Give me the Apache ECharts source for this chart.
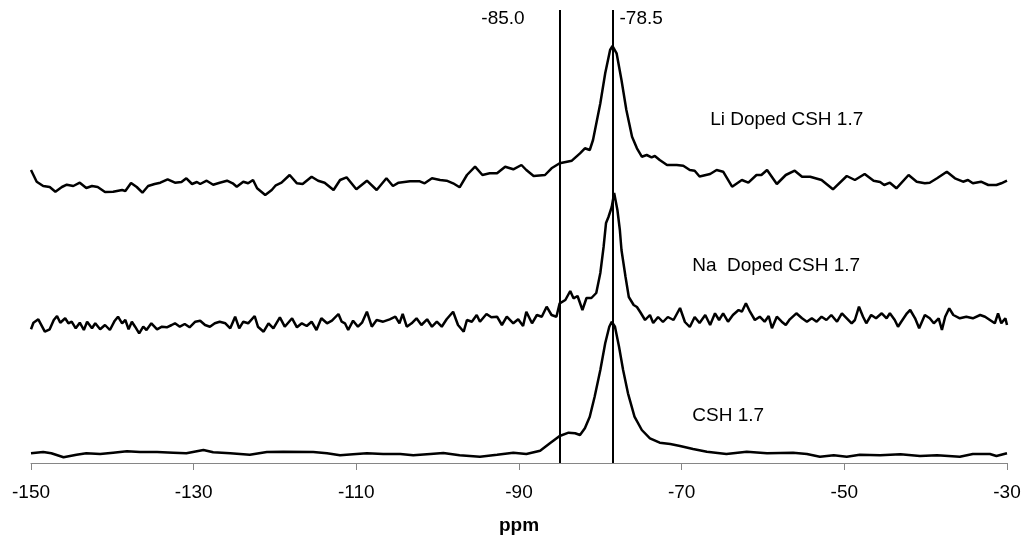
<!DOCTYPE html>
<html>
<head>
<meta charset="utf-8">
<script src="https://cdn.jsdelivr.net/npm/echarts@6/dist/echarts.min.js"></script>
<style>
html,body{margin:0;padding:0;background:#fff;}
#chart{width:1023px;height:538px;}
</style>
</head>
<body>
<div id="chart"></div>
<script>
// ---- Data (chemical shift in ppm, intensity in arbitrary stacked units) ----
const xMin = -150, xMax = -30, xStep = 20;
const axisName = 'ppm';
const seriesNames = ['Li Doped CSH 1.7', 'Na  Doped CSH 1.7', 'CSH 1.7'];
const refLines = [-85.0, -78.5];
const refLabels = ['-85.0', '-78.5'];

const liPpm = [-150.0,-149.3,-148.5,-147.7,-147.0,-146.2,-145.6,-144.8,-144.0,-143.2,-142.5,-141.8,-140.9,-139.9,-138.8,-138.4,-137.7,-137.0,-136.3,-135.6,-134.8,-134.1,-133.2,-132.3,-131.5,-130.9,-130.2,-129.6,-129.2,-128.4,-127.6,-126.8,-125.9,-125.2,-124.7,-123.9,-123.3,-122.7,-122.2,-121.2,-120.4,-119.9,-119.2,-118.2,-117.3,-116.6,-115.5,-114.7,-113.9,-112.8,-112.0,-111.2,-110.0,-108.7,-107.5,-106.3,-105.5,-104.8,-103.4,-102.2,-101.6,-100.7,-99.7,-98.9,-98.1,-97.3,-96.4,-95.4,-94.5,-93.6,-92.7,-91.7,-90.7,-89.7,-89.1,-88.2,-86.8,-86.0,-85.0,-83.5,-82.5,-81.9,-81.3,-80.9,-80.0,-79.4,-78.8,-78.5,-78.0,-77.4,-76.8,-76.1,-75.5,-74.9,-74.3,-73.7,-73.3,-72.7,-71.8,-70.6,-69.8,-69.0,-68.4,-67.8,-66.5,-65.7,-64.9,-63.8,-62.6,-61.8,-60.8,-60.2,-59.5,-58.3,-57.2,-56.1,-55.2,-54.2,-52.8,-51.4,-49.7,-48.7,-47.5,-46.4,-45.6,-45.1,-44.4,-43.6,-42.1,-41.1,-40.1,-39.5,-38.6,-37.4,-36.4,-35.4,-34.8,-34.2,-33.2,-32.3,-31.3,-30.7,-30.0];
const liVal = [293,281.3,277,276,271.3,276,278.3,277,280.3,275,277,276,271,271.3,273,272,280,276,270.3,277,279,280.3,283.7,280.3,281,284.7,279,281,279,282.3,278.3,280.3,282.3,279.7,276.3,281.3,279.7,283,274.7,268,273,277.7,280.3,288,279.7,279,286.3,282.3,280.3,273,283,285.7,273.7,282.3,273,284.7,277,280.3,281.7,281.7,279.7,284.7,283,282.3,279.7,275.7,288,296.3,288,289.7,289.7,296.3,293.7,298,293,287,288,294.7,299.7,302.3,309.7,314.7,313,323,359.7,389.7,413,417,409.7,383,353,326.3,314.7,306.3,308,305.7,307,303,298,298,297.3,293,292.3,286.5,289,293,291.3,276.3,283,280.3,288,288,293,279,288,292.3,286.3,286.3,283,273.7,287,283,289,282.3,281,278,280.3,274.7,288,281.3,279.7,280.3,284.7,291.3,284.7,281.3,283,279.7,281.3,278,278,279.7,282.3];

const naPpm = [-150.0,-149.7,-149.1,-148.3,-147.7,-147.2,-146.8,-146.4,-145.8,-145.4,-145.0,-144.5,-144.0,-143.5,-143.1,-142.5,-142.1,-141.5,-140.9,-140.3,-139.7,-139.3,-138.8,-138.4,-138.0,-137.6,-137.2,-136.7,-136.2,-135.8,-135.2,-134.5,-133.9,-133.3,-132.7,-132.3,-131.7,-131.1,-130.5,-129.8,-129.2,-128.6,-128.0,-127.4,-126.8,-126.1,-125.5,-124.9,-124.4,-123.9,-123.3,-122.5,-122.1,-121.4,-120.8,-120.2,-119.4,-118.8,-117.9,-117.3,-116.7,-116.1,-115.5,-114.9,-114.3,-113.6,-113.0,-112.2,-111.8,-111.4,-111.0,-110.4,-109.8,-109.3,-108.7,-108.1,-107.5,-106.7,-105.9,-105.2,-104.7,-104.3,-103.8,-103.2,-102.6,-102.0,-101.3,-100.7,-100.1,-99.5,-98.9,-98.1,-97.5,-96.8,-96.4,-95.8,-95.2,-94.8,-94.0,-93.4,-92.7,-92.1,-91.5,-90.7,-90.1,-89.5,-89.1,-88.4,-87.8,-87.2,-86.6,-86.0,-85.4,-85.0,-84.3,-83.7,-83.3,-82.8,-82.2,-81.7,-81.1,-80.5,-80.0,-79.6,-79.3,-79.0,-78.6,-78.3,-77.9,-77.6,-77.4,-76.9,-76.5,-75.9,-75.5,-75.1,-74.5,-73.9,-73.5,-72.9,-72.3,-71.7,-71.0,-70.2,-69.6,-69.0,-68.4,-67.8,-67.1,-66.5,-65.9,-65.4,-64.9,-64.3,-63.7,-63.0,-62.6,-62.1,-61.6,-61.0,-60.4,-59.8,-59.3,-58.9,-58.3,-57.7,-57.2,-56.7,-55.9,-55.2,-54.6,-54.0,-53.4,-52.8,-52.2,-51.6,-50.9,-50.3,-49.7,-49.1,-48.7,-48.2,-47.7,-47.3,-46.7,-46.1,-45.4,-44.8,-44.4,-43.8,-43.4,-43.0,-42.3,-41.9,-41.3,-40.8,-40.1,-39.5,-39.0,-38.4,-38.0,-37.6,-37.1,-36.6,-35.8,-35.0,-34.2,-33.3,-32.7,-32.1,-31.5,-31.1,-30.7,-30.2,-30.0];
const naVal = [133.7,140.3,143.7,131.3,133.7,143,147,140.3,144.7,139.7,141.3,134.7,140.3,133,141.3,134.7,139.7,133.7,138,133,142.3,146.3,139.7,143,133.7,141.3,136.3,129.7,136.3,133,139.7,133.7,136.3,135.7,138,139.7,136.3,139,135.7,141.3,142.3,138,136.3,139.7,141.3,139.7,134.7,146.3,134.7,141.3,139.7,147,136.3,131.3,139.7,134.7,145.7,136.3,144.7,135.7,139.7,137,141.3,133,144.7,139.7,142.3,149,141.3,139.7,133,142.3,136.3,140.3,151.3,136.3,143,141.3,143.7,146.3,139.7,149,136.3,139.7,144.7,138,143.7,136.3,141.3,136.3,143.7,151.3,138,131.3,143,141.3,148,141.3,149,145.7,146.3,138,146.3,139.7,143.7,137,151.3,139.7,148,146.3,156.3,148,146.3,159.7,163,172,164.7,167,153,165,165,170,190,216,240,246,256,270,253,233,213,186,166,158,156,151,143,148,140,146,141,146,143,155,141,136,146,140,148,138,149.7,143,149.7,141.3,148,153,151.3,159.7,151.3,143,146.3,141.3,147,134.7,146.3,141.3,138,143.7,149.7,144.7,141.3,144.7,141.3,146.3,143,148,141.3,149.7,144.7,139.7,143,156.3,146.3,139.7,148,144.7,149.7,144.7,149.7,143,136.3,141.3,149.7,153,144.7,134.7,148,144.7,139.7,144.7,133,146.3,154.7,148,144.7,146.3,144.7,148,146.3,143,139.7,149.7,139.7,144.7,138];

const cshPpm = [-150.0,-148.5,-147.5,-146.0,-144.4,-143.2,-141.5,-139.9,-138.2,-136.6,-134.5,-132.5,-130.9,-128.8,-127.6,-125.5,-123.1,-121.0,-119.0,-115.3,-113.6,-112.0,-110.4,-108.7,-106.7,-104.6,-103.0,-100.9,-99.3,-97.3,-94.8,-92.7,-90.7,-89.1,-87.4,-86.2,-85.0,-83.9,-83.1,-82.5,-81.9,-81.3,-80.7,-80.0,-79.4,-78.9,-78.6,-78.2,-77.7,-77.2,-76.6,-75.8,-74.9,-73.9,-72.7,-71.4,-70.2,-68.6,-66.9,-64.5,-62.0,-59.5,-56.3,-54.6,-53.0,-51.3,-49.7,-48.1,-45.6,-43.1,-40.7,-38.6,-35.8,-34.2,-32.1,-31.3,-30.0];
const cshVal = [9.7,11,9.7,5.7,8.3,9.7,9,10.3,11.7,11,11,10.3,9.7,13,10.7,9.7,8.3,11,11.3,11,9.7,7.7,8.7,9.7,9,9,7.7,9,10,7.7,6.3,8.3,10.3,9,12.3,19.7,27,30.3,29.7,28,34.7,46.3,66.3,93,119.7,136.3,141.3,136.3,116.3,93,69.7,46.3,33,24.7,20.3,19,17,14,11.3,9,11.3,9.7,10.3,9,6.3,7.7,6.3,8.3,7.7,8.7,7,7.7,6.3,9,9,7,9.7];

// ---- Chart ----
const FONT = 'Arial, "Liberation Sans", sans-serif';
const pairs = (xs, ys) => xs.map((x, i) => [x, ys[i]]);
const traces = [pairs(liPpm, liVal), pairs(naPpm, naVal), pairs(cshPpm, cshVal)];

const chart = echarts.init(document.getElementById('chart'), null, {renderer: 'canvas'});

const series = traces.map((d, i) => ({
  name: seriesNames[i],
  type: 'line',
  data: d,
  showSymbol: false,
  symbol: 'none',
  animation: false,
  lineStyle: {color: '#000', width: 2.5},
  z: 3
}));
series.push({
  type: 'line',
  data: [],
  animation: false,
  markLine: {
    silent: true,
    symbol: ['none', 'none'],
    label: {show: false},
    lineStyle: {color: '#000', width: 2, type: 'solid'},
    data: refLines.map(v => ({xAxis: v}))
  },
  z: 4
});

const option = {
  animation: false,
  backgroundColor: '#fff',
  grid: {left: 31, right: 16, top: 10, bottom: 75, containLabel: false, outerBoundsMode: 'none'},
  xAxis: {
    type: 'value',
    min: xMin, max: xMax, interval: xStep,
    name: axisName,
    nameLocation: 'middle',
    nameGap: 53,
    nameTextStyle: {fontFamily: FONT, fontSize: 19, fontWeight: 'bold', color: '#000'},
    axisLine: {show: true, onZero: false, lineStyle: {color: '#868686', width: 1}},
    axisTick: {show: true, length: 7, inside: false, lineStyle: {color: '#868686', width: 1}},
    axisLabel: {fontFamily: FONT, fontSize: 19, color: '#000', margin: 20},
    splitLine: {show: false}
  },
  yAxis: {type: 'value', min: 0, max: 453, show: false, splitLine: {show: false}},
  series: series
};
chart.setOption(option);

// Text annotations anchored in data coordinates
const toPx = (x, y) => chart.convertToPixel({gridIndex: 0}, [x, y]);
const seriesLabelAnchor = [[-66.5, 343], [-68.7, 197], [-68.7, 47]];
const graphics = [];
seriesNames.forEach((t, i) => {
  const p = toPx(seriesLabelAnchor[i][0], seriesLabelAnchor[i][1]);
  graphics.push({type: 'text', x: p[0], y: p[1], silent: true,
    style: {text: t, fontFamily: FONT, fontSize: 19, fill: '#000', textAlign: 'left', textVerticalAlign: 'middle'}});
});
const topY = toPx(0, 444)[1];
refLines.forEach((v, i) => {
  const p = toPx(v, 0);
  const left = i === 0;
  graphics.push({type: 'text', x: left ? p[0] - 35 : p[0] + 7, y: topY, silent: true,
    style: {text: refLabels[i], fontFamily: FONT, fontSize: 19, fill: '#000', textAlign: left ? 'right' : 'left', textVerticalAlign: 'middle'}});
});
chart.setOption({graphic: graphics});
</script>
</body>
</html>
